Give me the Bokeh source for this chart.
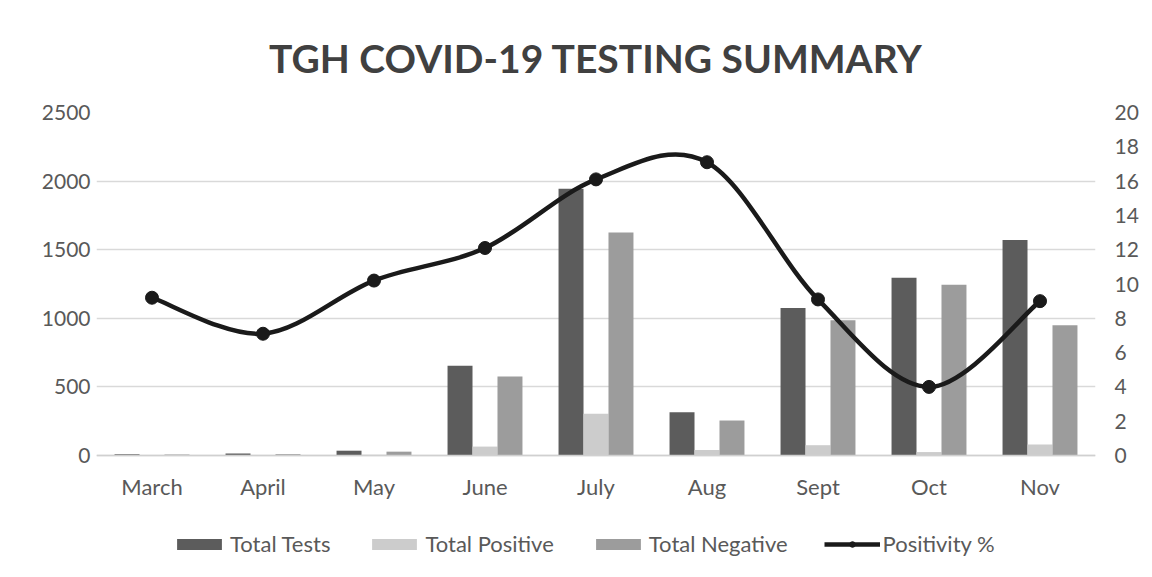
from bokeh.plotting import figure
from bokeh.models import (Range1d, LinearAxis, FixedTicker, Legend, LegendItem, Title)
from bokeh.embed import file_html
from bokeh.resources import INLINE

months = ["March", "April", "May", "June", "July", "Aug", "Sept", "Oct", "Nov"]
total_tests = [10, 15, 35, 655, 1945, 315, 1075, 1295, 1570]
total_positive = [2, 3, 5, 65, 305, 40, 75, 25, 80]
total_negative = [8, 10, 28, 575, 1625, 255, 985, 1245, 950]
positivity = [9.2, 7.1, 10.2, 12.1, 16.1, 17.1, 9.1, 4.0, 9.0]
left_ticks = [0, 500, 1000, 1500, 2000, 2500]
right_ticks = [0, 2, 4, 6, 8, 10, 12, 14, 16, 18, 20]

FONT = "Lato"
LABEL_COLOR = "#595959"

# plot area: 343 px for 0..2500; frame extended 116 px below the zero line to hold
# the category labels and the legend
PLOT_H = 343
EXTRA = 116
LMAX, RMAX = 2500, 20
lmin = -EXTRA * LMAX / PLOT_H
rmin = -EXTRA * RMAX / PLOT_H

x = list(range(len(months)))
p = figure(frame_width=999, frame_height=PLOT_H + EXTRA, output_backend="svg",
           toolbar_location=None,
           x_range=Range1d(-0.5, len(months) - 0.5), y_range=Range1d(lmin, LMAX),
           min_border_left=96, min_border_right=41, min_border_top=111,
           min_border_bottom=4)
p.extra_y_ranges = {"pct": Range1d(rmin, RMAX)}
p.outline_line_color = None
p.background_fill_color = "white"
p.border_fill_color = "white"

bw = 0.225
r1 = p.vbar(x=[v - bw for v in x], top=total_tests, width=bw, fill_color="#5c5c5c",
            line_color=None)
r2 = p.vbar(x=x, top=total_positive, width=bw, fill_color="#cccccc", line_color=None)
r3 = p.vbar(x=[v + bw for v in x], top=total_negative, width=bw, fill_color="#9c9c9c",
            line_color=None)

# smoothed line (Catmull-Rom -> cubic Bezier segments, like a spreadsheet's smoothed line)
n = len(positivity)
pts = list(zip(x, positivity))
x0s, y0s, x1s, y1s, cx0, cy0, cx1, cy1 = [], [], [], [], [], [], [], []
for i in range(n - 1):
    pa = pts[i - 1] if i > 0 else pts[i]
    pb = pts[i]
    pc = pts[i + 1]
    pd = pts[i + 2] if i + 2 < n else pts[i + 1]
    x0s.append(pb[0]); y0s.append(pb[1]); x1s.append(pc[0]); y1s.append(pc[1])
    cx0.append(pb[0] + (pc[0] - pa[0]) / 6); cy0.append(pb[1] + (pc[1] - pa[1]) / 6)
    cx1.append(pc[0] - (pd[0] - pb[0]) / 6); cy1.append(pc[1] - (pd[1] - pb[1]) / 6)
r4 = p.bezier(x0=x0s, y0=y0s, x1=x1s, y1=y1s, cx0=cx0, cy0=cy0, cx1=cx1, cy1=cy1,
              line_color="#1a1a1a", line_width=4.5, y_range_name="pct")
r5 = p.scatter(x=x, y=positivity, size=13, fill_color="#1a1a1a", line_color="#1a1a1a",
               y_range_name="pct")

# axes
p.xaxis.ticker = FixedTicker(ticks=x)
p.xaxis.major_label_overrides = {i: m for i, m in enumerate(months)}
p.xaxis.fixed_location = 0
p.yaxis.ticker = FixedTicker(ticks=left_ticks)
for ax in [p.xaxis[0], p.yaxis[0]]:
    ax.axis_line_color = None
    ax.major_tick_line_color = None
    ax.minor_tick_line_color = None
    ax.major_label_text_font = FONT
    ax.major_label_text_color = LABEL_COLOR
p.xaxis.major_label_text_font_size = "22px"
p.yaxis.major_label_text_font_size = "21px"
p.xaxis.major_label_standoff = 11
p.xaxis.axis_line_color = "#d0d0d0"
p.xaxis.axis_line_width = 1.5
p.yaxis.major_label_standoff = 0

ra = LinearAxis(y_range_name="pct", ticker=FixedTicker(ticks=right_ticks))
ra.axis_line_color = None
ra.major_tick_line_color = None
ra.minor_tick_line_color = None
ra.major_label_text_font = FONT
ra.major_label_text_font_size = "21px"
ra.major_label_text_color = LABEL_COLOR
ra.major_label_standoff = 13
p.add_layout(ra, "right")

p.xgrid.grid_line_color = None
p.ygrid.grid_line_color = "#d9d9d9"
p.ygrid.grid_line_width = 1.5

# title
p.title = Title(text="TGH COVID-19 TESTING SUMMARY", text_font=FONT,
                text_font_style="bold", text_font_size="39px", text_color="#404040",
                align="center", standoff=64, offset=-12)

legend = Legend(items=[
    LegendItem(label="Total Tests", renderers=[r1]),
    LegendItem(label="Total Positive", renderers=[r2]),
    LegendItem(label="Total Negative", renderers=[r3]),
    LegendItem(label="Positivity %", renderers=[r4, r5]),
], orientation="horizontal", location=(75, 14))
legend.label_text_font = FONT
legend.label_text_font_size = "22px"
legend.label_text_color = LABEL_COLOR
legend.glyph_width = 56
legend.glyph_height = 14
legend.spacing = 36
legend.label_standoff = 3
legend.border_line_color = None
legend.background_fill_alpha = 0
legend.margin = 0
legend.padding = 4
p.add_layout(legend)

open("out.html", "w").write(file_html(p, INLINE))
